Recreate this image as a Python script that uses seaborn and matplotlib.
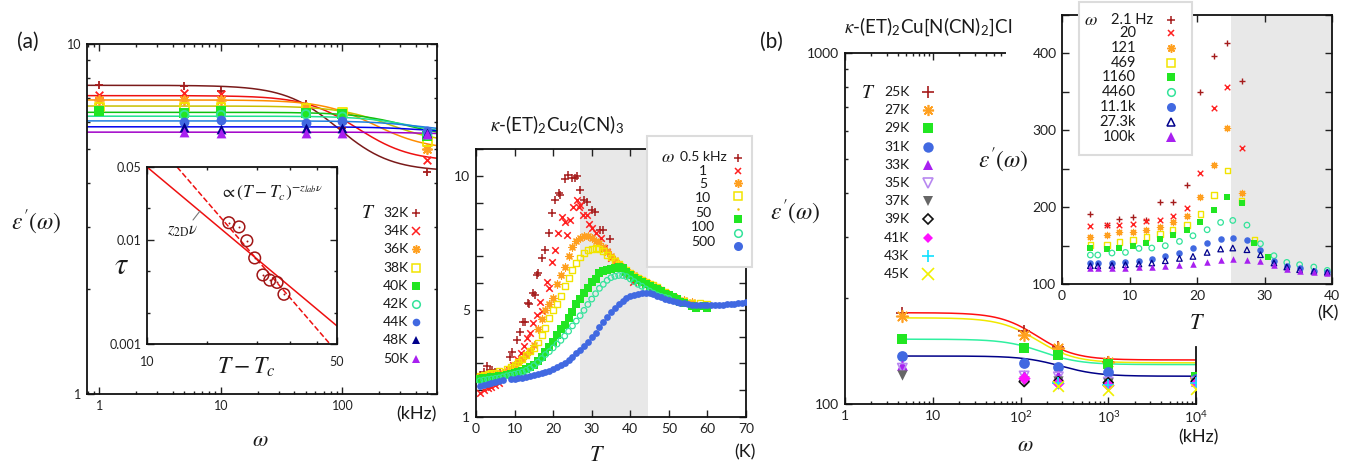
import numpy as np
import pandas as pd
import seaborn as sns
import matplotlib.pyplot as plt
from matplotlib.lines import Line2D
from matplotlib.patches import Rectangle
from matplotlib.ticker import FixedLocator, NullFormatter, FuncFormatter, MultipleLocator, LogLocator

sns.set_style("ticks")
plt.rcParams['font.family'] = ['Lato', 'DejaVu Sans']
plt.rcParams['mathtext.fontset'] = 'stix'

nan = np.nan

# ---------------- panel (a): eps'(omega) at fixed T ----------------
a_freq = [1, 5, 10, 50, 100, 500]  # kHz
a_temps = ['32K', '34K', '36K', '38K', '40K', '42K', '44K', '48K', '50K']
a_32K = [7.63, 7.60, 7.35, 6.75, 5.76, 4.31]
a_34K = [7.13, 7.25, 7.20, 6.60, 6.06, 4.66]
a_36K = [6.90, 6.92, 6.92, 6.60, 6.30, 5.00]
a_38K = [6.62, 6.62, 6.62, 6.56, 6.40, 5.26]
a_40K = [6.45, 6.35, 6.42, 6.36, 6.30, 5.46]
a_42K = [nan, 6.27, 6.27, 6.30, 6.20, 5.50]
a_44K = [nan, 6.00, 6.07, 5.94, 6.04, 5.63]
a_48K = [nan, 5.80, 5.72, 5.74, 5.74, 5.57]
a_50K = [nan, 5.59, 5.57, 5.55, 5.55, 5.52]
a_eps = [a_32K, a_34K, a_36K, a_38K, a_40K, a_42K, a_44K, a_48K, a_50K]
# Debye fit parameters
a_eps_s = [7.62, 7.12, 6.92, 6.65, 6.38, 6.22, 6.03, 5.80, 5.60]
a_eps_inf = [4.33, 4.62, 4.98, 5.20, 5.38, 5.45, 5.58, 5.55, 5.50]
a_f_relax = [80, 120, 170, 230, 320, 380, 450, 500, 600]

# inset: relaxation time vs T - Tc
tau_dT = [20.0, 21.8, 23.3, 24.9, 26.7, 28.3, 30.1, 31.9]
tau_val = [0.0146, 0.0133, 0.0098, 0.0067, 0.0046, 0.0041, 0.0039, 0.0030]
fit2d_dT = [10, 50]
fit2d_tau = [0.05, 0.00149]
fitlab_dT = [12.9, 47.1]
fitlab_tau = [0.05, 0.001]

# ---------------- middle: eps'(T) at fixed omega ----------------
m_05_T = [1.1, 2.0, 2.9, 3.5, 4.2, 5.0, 6.3, 8.8, 9.3, 10.5, 11.4, 12.2, 12.7, 13.6, 13.8, 14.7, 15.3, 15.7,
          16.2, 17.0, 17.9, 18.8, 19.6, 20.5, 21.4, 21.8, 23.1, 23.9, 24.8, 25.7, 26.1, 27.0, 27.9, 28.7,
          30.0, 30.9, 32.2, 33.0, 34.8]
m_05_e = [2.57, 2.69, 2.90, 2.75, 2.75, 2.69, 2.69, 3.25, 3.44, 3.87, 4.18, 4.55, 4.56, 5.24, 5.22, 5.62, 5.55, 6.30,
          6.36, 6.92, 7.23, 7.85, 8.60, 9.10, 9.35, 9.29, 9.87, 10.03, 9.91, 9.91, 9.98, 9.47, 9.10, 9.04,
          8.72, 8.65, 7.98, 7.98, 7.63]
m_1_T = [1.1, 2.2, 3.0, 3.8, 4.8, 6.0, 8.5, 9.6, 10.6, 11.6, 12.4, 13.3, 14.0, 14.9, 15.8, 16.6, 17.0, 18.3, 18.8,
         19.6, 20.5, 21.3, 22.2, 23.1, 23.5, 24.4, 25.2, 26.1, 26.6, 27.0, 27.8, 28.9, 29.4, 30.2, 31.0, 32.4,
         33.2, 34.0, 35.0, 36.0, 37.5, 39.2, 40.8]
m_1_e = [1.90, 2.00, 2.10, 2.12, 2.20, 2.27, 2.75, 2.95, 3.15, 3.40, 3.65, 3.95, 4.15, 4.50, 4.80, 5.30, 4.95, 6.05, 5.80,
         6.80, 7.23, 7.85, 8.47, 8.29, 7.79, 8.35, 8.85, 9.10, 8.85, 8.90, 8.55, 8.54, 8.20, 8.04, 7.85, 7.67,
         7.30, 7.15, 6.95, 6.80, 6.60, 6.35, 6.05]
m_5_T = [1, 2, 3, 4, 5, 6, 7, 8, 9, 10, 11, 12, 13, 14, 15, 16, 17, 18, 19, 20, 21, 22, 23, 24, 25, 26, 27, 28, 29,
         30, 31, 32, 33, 34, 35, 36, 37, 38, 39, 40, 41, 42, 43, 44, 45, 46, 47, 48, 50, 52, 54, 56]
m_5_e = [2.50, 2.52, 2.55, 2.57, 2.60, 2.62, 2.64, 2.72, 2.82, 2.93, 3.05, 3.16, 3.30, 3.45, 3.70, 4.30, 4.65, 5.00,
         5.20, 5.45, 5.95, 6.30, 6.60, 7.00, 7.35, 7.55, 7.67, 7.74, 7.76, 7.68, 7.58, 7.48, 7.35, 7.20, 7.02, 6.85,
         6.70, 6.58, 6.48, 6.38, 6.28, 6.18, 6.10, 6.03, 5.96, 5.90, 5.82, 5.75, 5.60, 5.45, 5.35, 5.28]
m_10_T = [1, 2, 3, 4, 5, 6, 8, 9, 10, 11, 12, 13, 14, 15, 16, 17, 18, 19, 20, 21, 22, 23, 24, 25, 26, 27, 28, 29,
          30, 31, 32, 33, 34, 35, 36, 37, 38, 39, 40, 41, 42, 43, 44, 45, 46, 47, 48, 49, 50, 51, 52, 54, 56, 58, 60]
m_10_e = [2.55, 2.58, 2.60, 2.63, 2.66, 2.70, 2.80, 2.87, 2.95, 3.04, 3.16, 3.30, 3.45, 3.58, 3.78, 4.05, 4.32,
          4.68, 5.00, 5.20, 5.50, 5.90, 6.20, 6.50, 6.75, 6.95, 7.12, 7.22, 7.28, 7.30, 7.27, 7.18, 7.05, 6.95,
          6.82, 6.70, 6.58, 6.48, 6.38, 6.28, 6.18, 6.10, 6.05, 5.98, 5.92, 5.86, 5.75, 5.65, 5.56, 5.48, 5.42,
          5.32, 5.26, 5.24, 5.20]
m_100_T = [1, 2, 3, 4, 5, 6, 8, 9, 10, 11, 12, 13, 14, 15, 16, 17, 18, 19, 20, 21, 22, 23, 24, 25, 26, 27, 28, 29,
           30, 31, 32, 33, 34, 35, 36, 37, 38, 39, 40, 41, 42, 43, 44, 45, 46, 47, 48, 49, 50, 51, 52, 53, 54, 56,
           57, 59, 60]
m_100_e = [2.42, 2.45, 2.47, 2.49, 2.50, 2.52, 2.57, 2.60, 2.63, 2.67, 2.72, 2.78, 2.86, 2.95, 3.08, 3.25, 3.42,
           3.60, 3.80, 4.05, 4.30, 4.45, 4.70, 4.90, 5.20, 5.40, 5.62, 5.80, 6.05, 6.15, 6.38, 6.45, 6.50, 6.52,
           6.55, 6.58, 6.55, 6.42, 6.30, 6.20, 6.10, 6.02, 5.95, 5.88, 5.82, 5.76, 5.70, 5.60, 5.55, 5.48, 5.40,
           5.30, 5.24, 5.15, 5.05, 5.15, 5.05]
m_ring_T = [1, 2, 3, 4, 5, 6, 7, 8, 9, 10, 11, 12, 13, 14, 15, 16, 17, 18, 19, 20, 21, 22, 23, 24, 25, 26, 27, 28,
            29, 30, 31, 32, 33, 34, 35, 36, 37, 38, 39, 40, 41, 42, 43, 44, 45, 46, 47, 48, 49, 50]
m_ring_e = [2.35, 2.38, 2.40, 2.42, 2.44, 2.46, 2.50, 2.54, 2.57, 2.60, 2.64, 2.68, 2.74, 2.82, 2.92, 3.04, 3.18,
            3.33, 3.44, 3.58, 3.72, 3.86, 4.02, 4.20, 4.40, 4.58, 4.78, 4.98, 5.20, 5.40, 5.60, 5.80, 5.95, 6.10,
            6.20, 6.25, 6.28, 6.28, 6.24, 6.15, 6.05, 5.95, 5.88, 5.78, 5.70, 5.62, 5.55, 5.50, 5.46, 5.42]
m_500_T = [1, 2, 3, 4, 5, 6, 7, 9, 10, 11, 12, 13, 14, 15, 16, 17, 18, 19, 20, 21, 22, 23, 24, 25, 26, 27, 28, 29,
           30, 31, 32, 33, 34, 35, 36, 37, 38, 39, 40, 41, 42, 43, 44, 45, 46, 47, 48, 49, 50, 51, 52, 53, 54, 55,
           56, 57, 58, 59, 60, 61, 62, 63, 64, 65, 66, 67, 68, 69, 70]
m_500_e = [2.16, 2.20, 2.23, 2.26, 2.29, 2.33, 2.37, 2.40, 2.42, 2.44, 2.47, 2.50, 2.53, 2.57, 2.61, 2.65, 2.69,
           2.73, 2.78, 2.85, 2.93, 3.02, 3.13, 3.25, 3.37, 3.50, 3.65, 3.80, 3.97, 4.15, 4.34, 4.53, 4.73, 4.92,
           5.08, 5.22, 5.34, 5.44, 5.51, 5.56, 5.60, 5.62, 5.62, 5.61, 5.58, 5.53, 5.47, 5.42, 5.38, 5.34, 5.30,
           5.27, 5.24, 5.21, 5.19, 5.18, 5.17, 5.17, 5.17, 5.17, 5.17, 5.18, 5.19, 5.20, 5.21, 5.22, 5.24, 5.26, 5.28]
m_labels = ['0.5 kHz', '1', '5', '10', '50', '100', '500']

# ---------------- panel (b): eps'(omega), kappa-Cl ----------------
b_freq = [4.5, 110, 270, 1000, 10000]  # kHz
b_temps = ['25K', '27K', '29K', '31K', '33K', '35K', '37K', '39K', '41K', '43K', '45K']
b_25K = [181.6, 161.7, 145.8, 132.1, 118.3]
b_27K = [177.7, 157.4, 144.8, 132.1, 118.8]
b_29K = [153.0, 144.3, 138.0, 129.7, 119.7]
b_31K = [137.0, 130.7, 127.3, 123.7, 117.6]
b_33K = [129.2, 121.0, 121.0, 116.3, 116.3]
b_35K = [126.5, 120.2, 119.5, 115.5, 115.5]
b_37K = [121.0, 116.6, 116.0, 115.0, 115.0]
b_39K = [nan, 115.8, 115.8, 115.0, 116.0]
b_41K = [nan, 118.9, 114.6, 113.3, 115.0]
b_43K = [nan, nan, 114.6, 113.0, 114.6]
b_45K = [nan, nan, 112.6, 109.6, 110.5]
b_eps = [b_25K, b_27K, b_29K, b_31K, b_33K, b_35K, b_37K, b_39K, b_41K, b_43K, b_45K]
b_fit_eps_s = [182, 176, 153, 137]
b_fit_eps_inf = [133.5, 131, 129.5, 120]
b_fit_f_relax = [145, 145, 170, 280]

# inset (b): eps'(T)
bi_Ta = [4.2, 6.7, 8.5, 10.5, 12.5, 14.5, 16.4, 18.5, 20.5, 22.5, 24.5, 26.6]
bi_Tb = [4.2, 5.3, 7.4, 9.4, 11.4, 13.3, 15.3, 17.4, 19.4, 21.5, 23.5, 25.3, 27.4, 29.4, 31.4, 33.3, 35.2, 37.3, 39.3]
bi_2Hz = [191.3, 177.1, 184.4, 187.0, 183.5, 206.9, 206.9, 229.0, 350.2, 396.5, 413.0, 364.0]
bi_20 = [174.9, 177.1, 177.1, 177.9, 182.3, 183.5, 188.7, 198.7, 244.2, 328.6, 355.8, 277.5]
bi_121 = [161.0, 163.2, 167.1, 167.5, 170.6, 174.5, 180.1, 187.9, 212.6, 255.0, 303.5, 219.0]
bi_469_T = bi_Ta + [28.5]
bi_469 = [151.1, 151.1, 154.5, 157.6, 161.0, 165.4, 170.6, 177.1, 190.9, 216.0, 247.6, 208.2, 157.6]
bi_1160_T = bi_Ta + [28.5, 30.5]
bi_1160 = [146.3, 145.5, 146.8, 148.9, 153.2, 158.4, 163.6, 169.7, 180.1, 195.7, 213.0, 205.2, 153.2, 135.1]
bi_4460 = [137.7, 137.7, 140.3, 141.1, 146.3, 146.8, 149.8, 155.4, 162.8, 170.6, 180.1, 182.7, 176.6, 152.4,
           136.8, 128.1, 125.1, 122.1, 117.7]
bi_11k = [127.3, 127.3, 127.3, 128.1, 129.4, 132.5, 135.9, 140.3, 146.3, 153.2, 158.4, 159.3, 156.7, 144.6,
          129.4, 122.9, 120.3, 116.5, 115.6]
bi_27k = [123.8, 123.8, 124.2, 125.1, 126.0, 127.3, 130.3, 133.3, 135.9, 141.1, 145.5, 146.8, 144.6, 138.1,
          127.3, 122.1, 118.6, 116.5, 115.2]
bi_100k = [120.8, 120.8, 120.8, 120.8, 121.6, 121.6, 122.9, 124.2, 126.4, 128.1, 130.7, 132.5, 131.6, 129.4,
           125.1, 119.5, 117.3, 115.6, 114.3]
bi_labels = ['2.1 Hz', '20', '121', '469', '1160', '4460', '11.1k', '27.3k', '100k']

# colours (gnuplot-like)
DRED, RED, ORA, YEL = '#a51c1c', '#ff2020', '#ffa020', '#f2e400'
GRN, SPG, BLU, NAV, PUR = '#22e622', '#33e39a', '#4169e1', '#00008b', '#a820f0'
AST = (8, 2, 0)

W, H = 1352, 468
fig = plt.figure(figsize=(13.52, 4.68), dpi=100)
fig.patch.set_facecolor('white')


def box(x0, y0, x1, y1):
    return [x0 / W, 1 - y1 / H, (x1 - x0) / W, (y1 - y0) / H]


def ftext(x, y, s, size, ha='center', va='center', z=6, **kw):
    fig.text(x / W, 1 - y / H, s, fontsize=size, ha=ha, va=va, zorder=z, color='#1a1a1a', **kw)


def fmark(x, y, color, marker, ms, style='fill', mew=1.0):
    fc = 'none' if style == 'open' else color
    fig.add_artist(Line2D([x / W], [1 - y / H], transform=fig.transFigure, marker=marker, ms=ms,
                          color=color, mfc=fc, mec=color, mew=0 if style == 'fill' else mew,
                          ls='none', zorder=6))


def pts(ax, x, y, color, marker, size, style='fill', lw=1.0, z=3):
    kw = dict(x=x, y=y, ax=ax, marker=marker, s=size, color=color, legend=False, zorder=z)
    if style == 'open':
        kw.update(facecolor='none', edgecolor=color, linewidth=lw)
    elif style == 'line':
        kw.update(linewidth=lw)
    else:
        kw.update(linewidth=0)
    sns.scatterplot(**kw)


def frame(ax, lsize=9, top=True, right=True):
    ax.tick_params(which='both', direction='in', top=top, right=right, labelsize=lsize,
                   color='#222222', labelcolor='#222222', width=1.0)
    ax.tick_params(which='major', length=5, pad=4)
    ax.tick_params(which='minor', length=2.5)
    for s in ax.spines.values():
        s.set_linewidth(1.3)
        s.set_color('#111111')


plain = FuncFormatter(lambda v, p: f'{v:g}')

# ======== panel (a) main ========
axA = fig.add_axes(box(87, 44, 437, 394))
axA.set_xscale('log')
axA.set_yscale('log')
a_style = [('+', DRED, 'line', 40), ('x', RED, 'line', 30), (AST, ORA, 'line', 45), ('s', YEL, 'open', 36),
           ('s', GRN, 'fill', 50), ('o', SPG, 'open', 36), ('o', BLU, 'fill', 50), ('^', NAV, 'fill', 50),
           ('^', PUR, 'fill', 50)]
a_line_colors = ['#7a1a1a', '#ee1111', '#ff8c00', '#c8c000', '#10c010', '#20e090', '#1e7fe0', '#0000ee', '#a000c8']
w_grid = np.logspace(np.log10(0.79), np.log10(600), 200)
for es, ei, fc, lc in zip(a_eps_s, a_eps_inf, a_f_relax, a_line_colors):
    sns.lineplot(x=w_grid, y=ei + (es - ei) / (1 + (w_grid / fc) ** 2), ax=axA, color=lc, linewidth=1.1,
                 legend=False, zorder=2)
for eps, (mk, c, st, s) in zip(a_eps, a_style):
    pts(axA, a_freq, eps, c, mk, s, st, lw=1.3)
axA.set_xlim(0.79, 600)
axA.set_ylim(1, 10)
axA.xaxis.set_major_formatter(plain)
axA.yaxis.set_major_formatter(plain)
axA.xaxis.set_minor_formatter(NullFormatter())
axA.yaxis.set_minor_formatter(NullFormatter())
frame(axA)

ftext(28, 42, '(a)', 15)
ftext(36, 222, r"$\epsilon'(\omega)$", 17)
ftext(260, 440, r'$\omega$', 16)
ftext(416, 414, '(kHz)', 13)
ftext(368, 213, r'$T$', 14)
for i, (lab, (mk, c, st, s)) in enumerate(zip(a_temps, a_style)):
    y = 213 + 18.2 * i
    ftext(383, y, lab, 10, ha='left')
    fmark(416, y, c, mk, 5.5 if st != 'line' else 6, st, mew=1.1)

# ======== panel (a) inset ========
axI = fig.add_axes(box(147, 167, 337, 344), zorder=1)
axI.set_xscale('log')
axI.set_yscale('log')
sns.lineplot(x=fit2d_dT, y=fit2d_tau, ax=axI, color='#ee1010', linewidth=1.1, legend=False)
sns.lineplot(x=fitlab_dT, y=fitlab_tau, ax=axI, color='#ee1010', linewidth=1.1, linestyle='--', legend=False)
pts(axI, tau_dT, tau_val, '#a01515', 'o', 70, 'open', lw=1.1, z=4)
pts(axI, tau_dT, tau_val, '#a01515', 'o', 2, 'fill', z=5)
axI.set_xlim(10, 50)
axI.set_ylim(0.001, 0.05)
axI.xaxis.set_major_locator(FixedLocator([10, 50]))
axI.xaxis.set_minor_locator(FixedLocator([16.6, 25.4, 33.6, 42.1]))
axI.yaxis.set_major_locator(FixedLocator([0.001, 0.01, 0.05]))
axI.yaxis.set_minor_locator(LogLocator(subs=(2.0, 5.0)))
axI.xaxis.set_major_formatter(plain)
axI.yaxis.set_major_formatter(plain)
axI.xaxis.set_minor_formatter(NullFormatter())
axI.yaxis.set_minor_formatter(NullFormatter())
frame(axI, lsize=9)
axI.tick_params(axis='x', pad=9)
ftext(122, 265, r'$\tau$', 22)
ftext(246, 367, r'$T-T_c$', 17)
ftext(272, 193, r'$\propto(T-T_c)^{-z_{lab}\nu}$', 12.5)
ftext(183, 231, r'$z_{\rm 2D}\nu$', 12)
fig.add_artist(Line2D([193 / W, 200 / W], [1 - 220 / H, 1 - 211 / H], transform=fig.transFigure,
                      color='#777777', lw=0.8, zorder=6))

# ======== middle panel ========
axM = fig.add_axes(box(476, 149, 746, 417))
axM.axvspan(27, 44.5, color='#e8e8e8', lw=0, zorder=0)
pts(axM, m_05_T, m_05_e, DRED, '+', 26, 'line', lw=1.1)
pts(axM, m_1_T, m_1_e, RED, 'x', 22, 'line', lw=1.1)
pts(axM, m_5_T, m_5_e, ORA, AST, 26, 'line', lw=0.9)
pts(axM, m_10_T, m_10_e, YEL, 's', 18, 'open', lw=1.0)
pts(axM, m_100_T, m_100_e, GRN, 's', 28, 'fill')
pts(axM, m_ring_T, m_ring_e, SPG, 'o', 16, 'open', lw=0.9)
pts(axM, m_500_T, m_500_e, BLU, 'o', 24, 'fill')
axM.set_xlim(0, 70)
axM.set_ylim(1, 11)
axM.xaxis.set_major_locator(MultipleLocator(10))
axM.yaxis.set_major_locator(MultipleLocator(1))
axM.yaxis.set_major_formatter(FuncFormatter(lambda v, p: f'{v:.0f}' if round(v) in (1, 5, 10) else ''))
frame(axM, lsize=10)
ftext(557, 125, r'$\kappa$-(ET)$_\mathregular{2}$Cu$_\mathregular{2}$(CN)$_\mathregular{3}$', 13.5)
ftext(597, 455, r'$T$', 16)
ftext(745, 452, '(K)', 13)
fig.add_artist(Rectangle((647 / W, 1 - 267 / H), 105 / W, 131 / H, transform=fig.transFigure,
                         fc='white', ec='#dcdcdc', lw=1.5, zorder=4))
ftext(668, 157, r'$\omega$', 13)
for lab, y in zip(m_labels, [157, 171, 184, 198, 213, 227, 242]):
    ftext(703, y, lab, 10)
m_leg = [('+', DRED, 'line', 6), ('x', RED, 'line', 5), (AST, ORA, 'line', 6), ('s', YEL, 'open', 5.5),
         ('o', '#f0c000', 'fill', 1.8), ('s', GRN, 'fill', 6), ('o', SPG, 'open', 5.5), ('o', BLU, 'fill', 6.5)]
for (mk, c, st, ms), y in zip(m_leg, [158, 171, 183, 196, 209, 219, 233, 246]):
    fmark(738, y, c, mk, ms, st, mew=1.1)

# ======== panel (b) main ========
axB = fig.add_axes(box(845, 53, 1196, 404))
axB.set_xscale('log')
axB.set_yscale('log')
b_style = [('+', DRED, 'line', 70), (AST, ORA, 'line', 70), ('s', GRN, 'fill', 60), ('o', BLU, 'fill', 60),
           ('^', PUR, 'fill', 60), ('v', '#b888f0', 'open', 45), ('v', '#666666', 'fill', 55),
           ('D', '#111111', 'open', 25), ('D', '#ff10ff', 'fill', 40), ('+', '#10e0ff', 'line', 70),
           ('x', '#f0f000', 'line', 60)]
b_line_colors = ['#ff1010', '#f0e800', '#30f0a0', '#000088']
wb = np.logspace(np.log10(4.5), 4, 200)
for es, ei, fc, lc in zip(b_fit_eps_s, b_fit_eps_inf, b_fit_f_relax, b_line_colors):
    sns.lineplot(x=wb, y=ei + (es - ei) / (1 + (wb / fc) ** 2), ax=axB, color=lc, linewidth=1.1,
                 legend=False, zorder=2)
for eps, (mk, c, st, s) in zip(b_eps, b_style):
    pts(axB, b_freq, eps, c, mk, s, st, lw=1.2)
axB.set_xlim(1, 1e4)
axB.set_ylim(100, 1000)
axB.xaxis.set_major_locator(FixedLocator([1, 10, 100, 1000, 10000]))
axB.xaxis.set_major_formatter(FuncFormatter(
    lambda v, p: {1: '1', 10: '10'}.get(int(round(v)), r'$\mathregular{10^{%d}}$' % round(np.log10(v)))))
axB.yaxis.set_major_formatter(plain)
axB.xaxis.set_minor_formatter(NullFormatter())
axB.yaxis.set_minor_formatter(NullFormatter())
frame(axB, lsize=10, right=False)
axB.spines['right'].set_bounds(100, 145)
ftext(771, 42, '(b)', 15)
ftext(795, 212, r"$\epsilon'(\omega)$", 17)
ftext(1025, 445, r'$\omega$', 16)
ftext(1198, 437, '(kHz)', 13)
ftext(868, 92, r'$T$', 14)
for i, (lab, (mk, c, st, s)) in enumerate(zip(b_temps, b_style)):
    y = 92 + 18.2 * i
    ftext(884, y, lab, 10, ha='left')
    fmark(928, y, c, mk, 8 if st == 'line' else (5 if mk == 'D' else 7.5), st, mew=1.2)
ftext(928, 27, r'$\kappa$-(ET)$_\mathregular{2}$Cu[N(CN)$_\mathregular{2}$]Cl', 13.5)

# white backdrop of the pasted inset
fig.add_artist(Rectangle((1006 / W, 1 - 300 / H), (W - 1006) / W, 300 / H, transform=fig.transFigure,
                         fc='white', ec='none', zorder=1.5))

# ======== panel (b) inset ========
axC = fig.add_axes(box(1062, 15, 1332, 284), zorder=2)
axC.axvspan(25, 40, color='#e8e8e8', lw=0, zorder=0)
pts(axC, bi_Ta, bi_2Hz, DRED, '+', 20, 'line', lw=1.0)
pts(axC, bi_Ta, bi_20, RED, 'x', 16, 'line', lw=1.0)
pts(axC, bi_Ta, bi_121, ORA, AST, 20, 'line', lw=0.9)
pts(axC, bi_469_T, bi_469, YEL, 's', 16, 'open', lw=1.0)
pts(axC, bi_1160_T, bi_1160, GRN, 's', 22, 'fill')
pts(axC, bi_Tb, bi_4460, SPG, 'o', 16, 'open', lw=0.9)
pts(axC, bi_Tb, bi_11k, BLU, 'o', 22, 'fill')
pts(axC, bi_Tb, bi_27k, NAV, '^', 16, 'open', lw=0.9)
pts(axC, bi_Tb, bi_100k, PUR, '^', 22, 'fill')
axC.set_xlim(0, 40)
axC.set_ylim(100, 450)
axC.xaxis.set_major_locator(MultipleLocator(10))
axC.yaxis.set_major_locator(MultipleLocator(50))
axC.yaxis.set_major_formatter(FuncFormatter(lambda v, p: f'{v:.0f}' if round(v) % 100 == 0 else ''))
frame(axC, lsize=10)
ftext(1003, 160, r"$\epsilon'(\omega)$", 17)
ftext(1197, 323, r'$T$', 16)
ftext(1328, 313, '(K)', 13)
fig.add_artist(Rectangle((1079 / W, 1 - 155 / H), 113 / W, 153 / H, transform=fig.transFigure,
                         fc='white', ec='#dcdcdc', lw=1.5, zorder=4))
ftext(1091, 20, r'$\omega$', 13)
bi_leg = [('+', DRED, 'line', 6), ('x', RED, 'line', 5), (AST, ORA, 'line', 6), ('s', YEL, 'open', 5.5),
          ('s', GRN, 'fill', 6), ('o', SPG, 'open', 5.5), ('o', BLU, 'fill', 6.5), ('^', NAV, 'open', 6),
          ('^', PUR, 'fill', 6.5)]
for i, (lab, (mk, c, st, ms)) in enumerate(zip(bi_labels, bi_leg)):
    y = [20, 33, 48, 63, 77, 92, 107, 122, 137][i]
    if i == 0:
        ftext(1111, y, lab, 10.5, ha='left')
    else:
        ftext(1136, y, lab, 10.5, ha='right')
    fmark(1171, y, c, mk, ms, st, mew=1.1)

fig.savefig('out.png', dpi=100)
